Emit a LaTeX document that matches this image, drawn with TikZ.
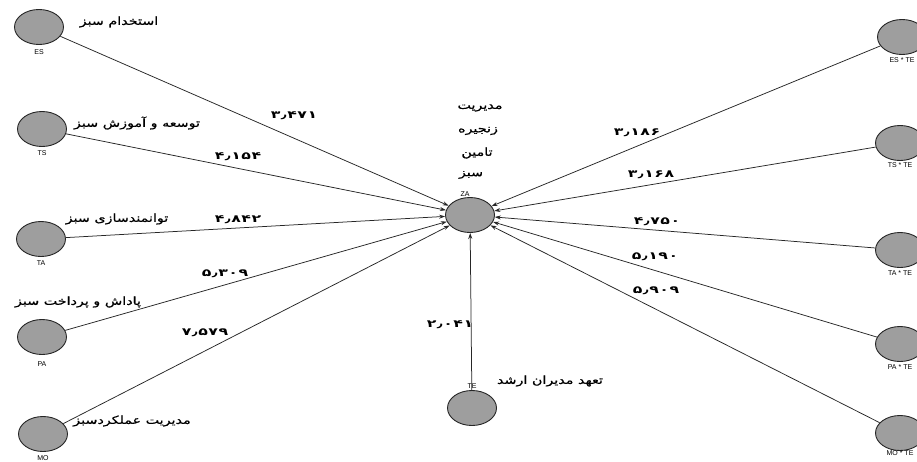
\documentclass[tikz,border=0pt]{standalone}
\usepackage{fontspec}
\setmainfont{DejaVu Sans}
\newfontfamily\fa[Script=Arabic,FakeStretch=1.3,FakeBold=0.6]{DejaVu Sans}
\newfontfamily\numfont[FakeStretch=1.5,LetterSpace=5]{DejaVu Sans Bold}
\newfontfamily\lat{Liberation Sans}
\TeXXeTstate=1
\usetikzlibrary{arrows.meta,shapes.geometric}
\definecolor{nodegray}{RGB}{158,158,158}
\tikzset{
  latent/.style={ellipse, draw=black!85, line width=0.9pt, fill=nodegray,
    minimum width=49pt, minimum height=35pt, inner sep=0pt},
  fatext/.style={font=\fa\fontsize{11}{13}\selectfont, inner sep=0pt},
  numlab/.style={font=\numfont\fontsize{10.5}{12}\selectfont, inner sep=0pt},
  tag/.style={font=\lat\fontsize{7}{8}\selectfont, inner sep=0pt},
  conn/.style={draw=black!85, line width=0.75pt, -{Stealth[length=6pt,width=4pt]}}
}
\begin{document}
\begin{tikzpicture}[x=1pt,y=-1pt]
\useasboundingbox (0,0) rectangle (917,461);
\clip (0,0) rectangle (917,461);
\fill[white] (0,0) rectangle (917,461);

% central node
\node[latent] (ZA) at (470,215) {};
\node[tag] (ZAt) at (465,194) {ZA};
\node[fatext] (za1) at (480,108) {\beginR مدیریت\endR};
\node[fatext] (za2) at (478,131) {\beginR زنجیره\endR};
\node[fatext] (za3) at (477,153) {\beginR تامین\endR};
\node[fatext] (za4) at (471,175) {\beginR سبز\endR};

% left nodes
\node[latent] (ES) at (39,27) {};
\node[tag] (ESt) at (39,52) {ES};
\node[fatext] (ESl) at (119,22) {\beginR استخدام سبز\endR};

\node[latent] (TS) at (42,129) {};
\node[tag] (TSt) at (42,153) {TS};
\node[fatext] (TSl) at (137,123) {\beginR توسعه و آموزش سبز\endR};

\node[latent] (TA) at (41,239) {};
\node[tag] (TAt) at (41,263) {TA};
\node[fatext] (TAl) at (117,219) {\beginR توانمندسازی سبز\endR};

\node[latent] (PA) at (42,337) {};
\node[tag] (PAt) at (42,364) {PA};
\node[fatext] (PAl) at (78,302) {\beginR پاداش و پرداخت سبز\endR};

\node[latent] (MO) at (43,434) {};
\node[tag] (MOt) at (43,458) {MO};
\node[fatext] (MOl) at (132,421) {\beginR مدیریت عملکردسبز\endR};

% bottom node
\node[latent] (TE) at (472,408) {};
\node[tag] (TEt) at (472,386) {TE};
\node[fatext] (TEl) at (550,381) {\beginR تعهد مدیران ارشد\endR};

% right nodes
\node[latent] (ESTE) at (902,37) {};
\node[tag] (ESTEt) at (902,60) {ES * TE};
\node[latent] (TSTE) at (900,143) {};
\node[tag] (TSTEt) at (900,165) {TS * TE};
\node[latent] (TATE) at (900,250) {};
\node[tag] (TATEt) at (900,273) {TA * TE};
\node[latent] (PATE) at (900,344) {};
\node[tag] (PATEt) at (900,367) {PA * TE};
\node[latent] (MOTE) at (900,433) {};
\node[tag] (MOTEt) at (900,453) {MO * TE};

% connectors
\draw[conn] (ES) -- (ZA);
\draw[conn] (TS) -- (ZA);
\draw[conn] (TA) -- (ZA);
\draw[conn] (PA) -- (ZA);
\draw[conn] (MO) -- (ZA);
\draw[conn] (TE) -- (ZA);
\draw[conn] (ESTE) -- (ZA);
\draw[conn] (TSTE) -- (ZA);
\draw[conn] (TATE) -- (ZA);
\draw[conn] (PATE) -- (ZA);
\draw[conn] (MOTE) -- (ZA);

% coefficients
\node[numlab] (n1) at (294,116) {۳٫۴۷۱};
\node[numlab] (n2) at (238,157) {۴٫۱۵۴};
\node[numlab] (n3) at (238,220) {۴٫۸۴۲};
\node[numlab] (n4) at (225,274) {۵٫۳۰۹};
\node[numlab] (n5) at (205,333) {۷٫۵۷۹};
\node[numlab] (n6) at (450,325) {۲٫۰۴۱};
\node[numlab] (n7) at (637,133) {۳٫۱۸۶};
\node[numlab] (n8) at (651,175) {۳٫۱۶۸};
\node[numlab] (n9) at (657,222) {۴٫۷۵۰};
\node[numlab] (n10) at (655,257) {۵٫۱۹۰};
\node[numlab] (n11) at (656,291) {۵٫۹۰۹};
\end{tikzpicture}
\end{document}
